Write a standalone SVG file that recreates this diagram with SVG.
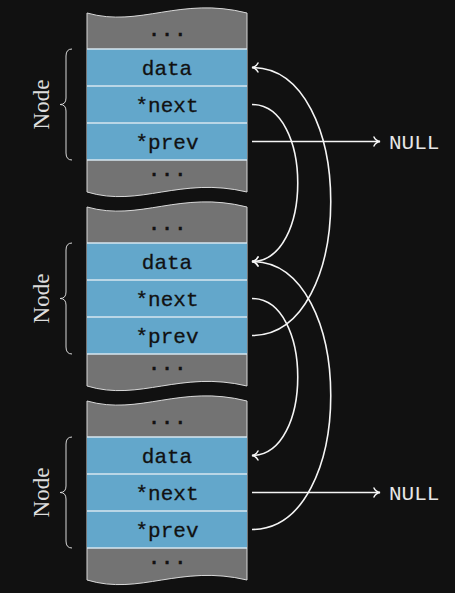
<svg xmlns="http://www.w3.org/2000/svg" width="455" height="593" viewBox="0 0 455 593">
<defs>
<style>
.bg{fill:#111111}
.gray{fill:#737373;stroke:#d8d8d8;stroke-width:1}
.blue{fill:#63a7cb}
.sep{stroke:#d6e6ef;stroke-width:1.6;fill:none}
.field{font-family:"Liberation Mono","DejaVu Sans Mono",monospace;font-size:21px;fill:#111111;stroke:#111111;stroke-width:0.3px;text-anchor:middle}
.dots{font-family:"Liberation Mono","DejaVu Sans Mono",monospace;font-size:21px;fill:#111111;stroke:#111111;stroke-width:0.6px;letter-spacing:0.5px}
.brace{fill:none;stroke:#d8d8d8;stroke-width:1}
.lbl{font-family:"Liberation Serif","DejaVu Serif",serif;font-size:23px;fill:#dddddd;text-anchor:middle}
.null{font-family:"Liberation Mono","DejaVu Sans Mono",monospace;font-size:21px;fill:#e6e6e6}
.conn{fill:none;stroke:#f5f5f5;stroke-width:1.6}
</style>
<marker id="arr" markerUnits="userSpaceOnUse" markerWidth="12" markerHeight="12" viewBox="-8 -6 10 12" refX="0" refY="0" orient="auto" overflow="visible">
<path d="M-6,-4.5 C-5,-2 -2,-0.4 0,0 C-2,0.4 -5,2 -6,4.5" fill="none" stroke="#f5f5f5" stroke-width="1.5" stroke-linecap="round"/>
</marker>
<g id="blockShape">
<path class="gray" d="M87,13 C140,28 180,-4 247,13 L247,192 C180,176 140,208 87,192 Z"/>
<rect class="blue" x="87" y="49" width="160" height="111"/>
<line class="sep" x1="87" y1="49" x2="247" y2="49"/>
<line class="sep" x1="87" y1="86" x2="247" y2="86"/>
<line class="sep" x1="87" y1="123" x2="247" y2="123"/>
<line class="sep" x1="87" y1="160" x2="247" y2="160"/>
<text class="dots" x="147.7" y="35.5">...</text>
<text class="dots" x="147.7" y="175.5">...</text>
<text class="field" x="167" y="74.5">data</text>
<text class="field" x="167" y="111.5">*next</text>
<text class="field" x="167" y="148.5">*prev</text>
<path class="brace" d="M72,49 Q66,49 66,56 L66,98 Q66,104.5 60,104.5 Q66,104.5 66,111 L66,153 Q66,160 72,160"/>
<text class="lbl" transform="translate(48.5,104.5) rotate(-90)">Node</text>
</g>
</defs>
<rect class="bg" x="0" y="0" width="455" height="593"/>
<g id="node1">
<use href="#blockShape"/>
</g>
<g id="node2" transform="translate(0,194)">
<use href="#blockShape"/>
</g>
<g id="node3" transform="translate(0,388)">
<use href="#blockShape"/>
</g>
<g id="null1"><text class="null" x="389" y="148.5">NULL</text></g>
<g id="null2"><text class="null" x="389" y="499.5">NULL</text></g>
<g id="connectors">
<path class="conn" marker-end="url(#arr)" d="M252,104.5 C313,104.5 313,261.5 252,261.5"/>
<path class="conn" marker-end="url(#arr)" d="M252,335.5 C357,335.5 357,67.5 252,67.5"/>
<path class="conn" marker-end="url(#arr)" d="M252,298.5 C313,298.5 313,455.5 252,455.5"/>
<path class="conn" marker-end="url(#arr)" d="M252,529.5 C357,529.5 357,261.5 252,261.5"/>
<path class="conn" marker-end="url(#arr)" d="M252,141.5 H380"/>
<path class="conn" marker-end="url(#arr)" d="M252,492.5 H380"/>
</g>
</svg>
